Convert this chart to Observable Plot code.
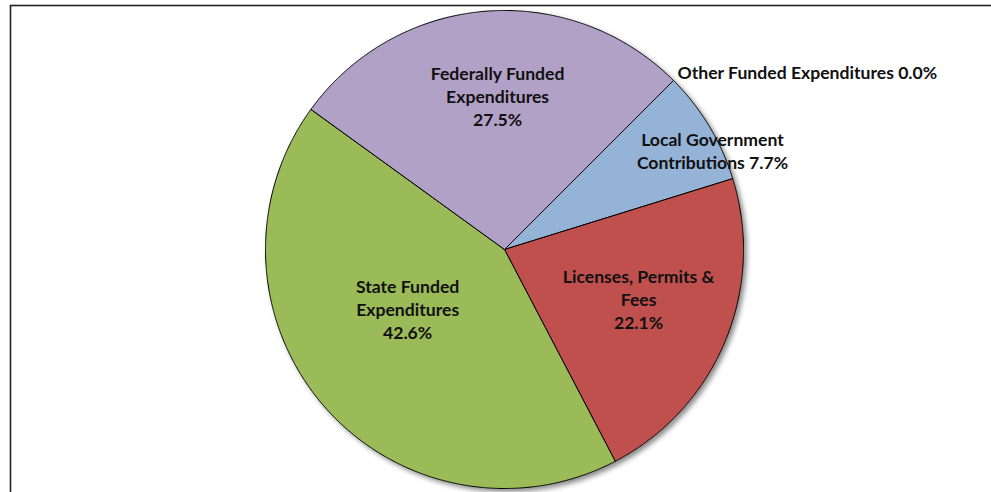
<!DOCTYPE html>
<html>
<head>
<meta charset="utf-8">
<script src="https://cdn.jsdelivr.net/npm/d3@7"></script>
<script src="https://cdn.jsdelivr.net/npm/@observablehq/plot@0.6"></script>
<style>
  html, body { margin: 0; padding: 0; background: #fff; }
  #chart svg g[aria-label="line"] { filter: drop-shadow(3px 3px 2.5px rgba(0,0,0,0.45)); }
</style>
</head>
<body>
<div id="chart"></div>
<script>
// Data (clockwise order as drawn)
const categories = [
  "Other Funded Expenditures",
  "Local Government Contributions",
  "Licenses, Permits & Fees",
  "State Funded Expenditures",
  "Federally Funded Expenditures"
];
const values = [0.0, 7.7, 22.1, 42.6, 27.5];
const labels = [
  "Other Funded Expenditures 0.0%",
  "Local Government\nContributions 7.7%",
  "Licenses, Permits &\nFees\n22.1%",
  "State Funded\nExpenditures\n42.6%",
  "Federally Funded\nExpenditures\n27.5%"
];
const colors = ["#8064A2", "#95B3D7", "#C0504D", "#9BBB59", "#B2A1C7"];

// Layout (not data): label placement in polar terms (degrees clockwise from top, radius fraction)
const labelLayout = [
  {angle: 44.5, r: 1.033, anchor: "start"},
  {angle: 64.9, r: 0.961, anchor: "middle"},
  {angle: 110.8, r: 0.60, anchor: "middle"},
  {angle: 237.8, r: 0.479, anchor: "middle"},
  {angle: 357.4, r: 0.637, anchor: "middle"}
];

const start = 45 * Math.PI / 180;
const arcs = d3.pie().sort(null).value(d => d.value)
  .startAngle(start).endAngle(start + 2 * Math.PI)(
    categories.map((name, i) => ({name, value: values[i]}))
  );

// Build slice outlines from the pie angles
const slicePts = [];
arcs.forEach(a => {
  const name = a.data.name;
  slicePts.push({name, x: 0, y: 0});
  const span = a.endAngle - a.startAngle;
  const n = Math.max(1, Math.ceil(span / (0.25 * Math.PI / 180)));
  for (let k = 0; k <= n; k++) {
    const t = a.startAngle + span * k / n;
    slicePts.push({name, x: Math.sin(t), y: Math.cos(t)});
  }
  slicePts.push({name, x: 0, y: 0});
});

const labelData = labels.map((text, i) => {
  const L = labelLayout[i];
  const t = L.angle * Math.PI / 180;
  return {text, x: L.r * Math.sin(t), y: L.r * Math.cos(t), anchor: L.anchor};
});

const textStyle = {fontSize: 17.6, fontWeight: "bold", lineHeight: 1.31, fill: "#111", dy: -2};

const W = 991, H = 492;
const chart = Plot.plot({
  width: W,
  height: H,
  marginLeft: 265,
  marginRight: 248,
  marginTop: 10,
  marginBottom: 4,
  x: {domain: [-1, 1], axis: null},
  y: {domain: [-1, 1], axis: null},
  color: {domain: categories, range: colors},
  style: {background: "white", overflow: "visible", fontFamily: "Lato, 'Open Sans', sans-serif"},
  marks: [
    Plot.frame({stroke: "#222", strokeWidth: 1.6, insetLeft: -255, insetTop: -5, insetRight: -300, insetBottom: -50}),
    Plot.line(slicePts, {x: "x", y: "y", z: "name", fill: "name", stroke: "#000", strokeWidth: 1, curve: "linear"}),
    Plot.text(labelData.filter(d => d.anchor === "middle"), {
      x: "x", y: "y", text: "text", textAnchor: "middle", lineAnchor: "middle", ...textStyle
    }),
    Plot.text(labelData.filter(d => d.anchor === "start"), {
      x: "x", y: "y", text: "text", textAnchor: "start", lineAnchor: "middle", ...textStyle
    })
  ]
});
document.getElementById("chart").appendChild(chart);
</script>
</body>
</html>
